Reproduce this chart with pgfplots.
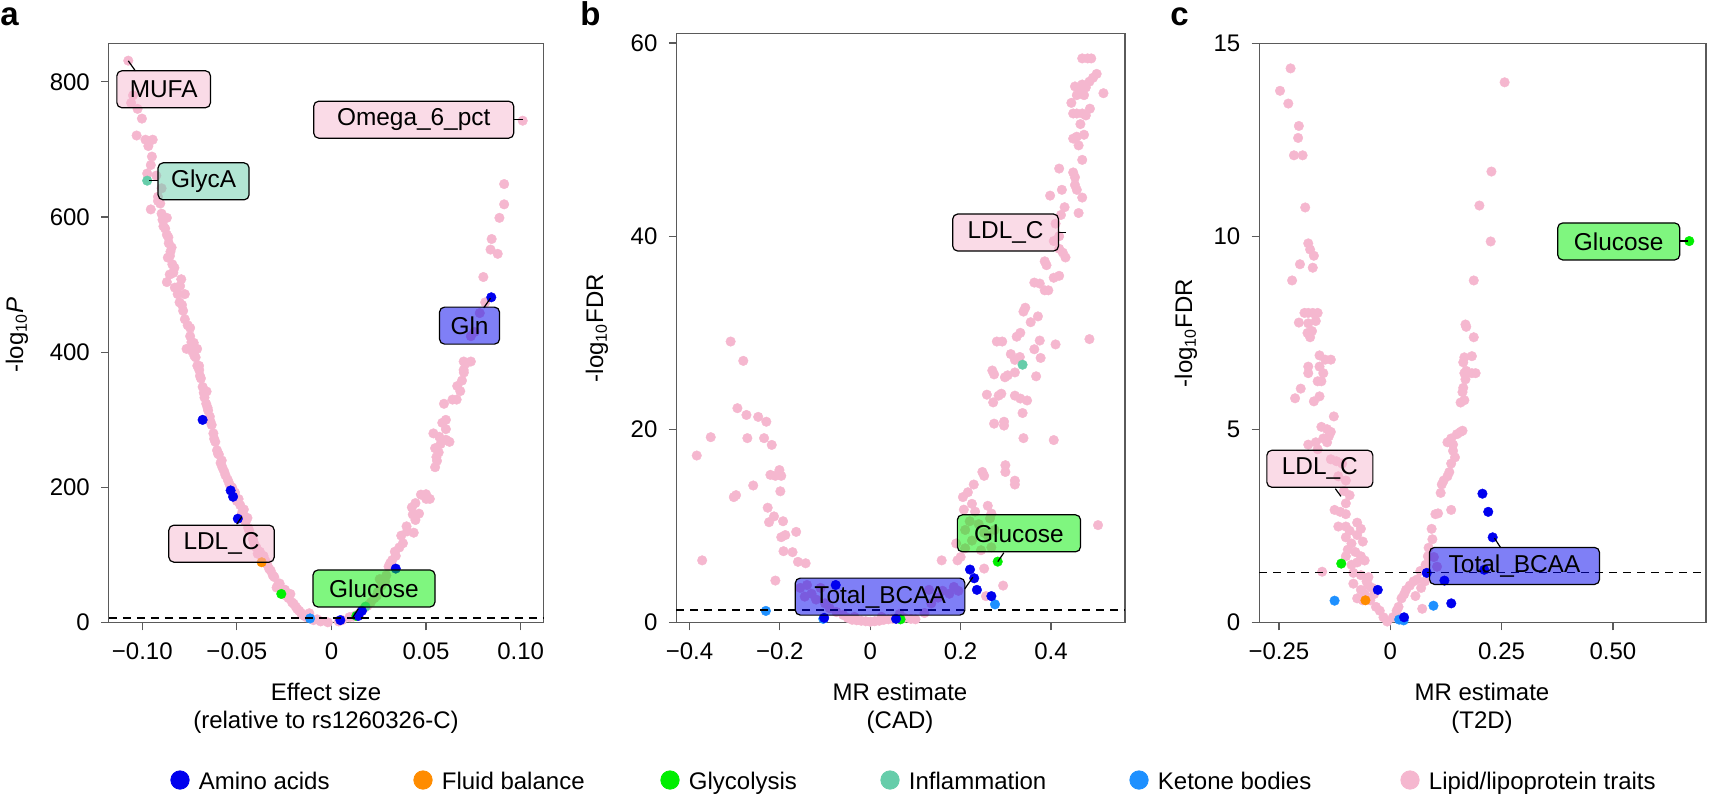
\documentclass[border=0pt]{standalone}
\usepackage{fontspec}
\setmainfont{Liberation Sans}
\usepackage{pgfplots}
\pgfplotsset{compat=1.18}

% category colours
\definecolor{amino}{RGB}{0,0,238}
\definecolor{fluid}{RGB}{255,140,0}
\definecolor{glyco}{RGB}{0,238,0}
\definecolor{inflam}{RGB}{102,205,170}
\definecolor{ketone}{RGB}{30,144,255}
\definecolor{lipid}{RGB}{245,183,207}
\definecolor{axgray}{RGB}{90,90,90}

\newcommand\fs{\fontsize{12}{14}\selectfont}
\newcommand\lf{\fontsize{12.2}{14}\selectfont}

\pgfplotsset{
  vol/.style={
    scale only axis, anchor=south west, clip mode=individual,
    axis line style={draw=axgray, line width=0.6pt},
    every tick/.style={draw=axgray, line width=0.6pt},
    tick align=outside, major tick length=3.8pt,
    xtick pos=bottom, ytick pos=left,
    ticklabel style={font=\fs, text=black},
    xticklabel style={inner sep=0pt, anchor=north, yshift=-6pt},
    yticklabel style={inner sep=0pt, anchor=east, xshift=-5.5pt},
  },
  pts/.style={only marks, mark=*, mark size=2.4pt, color=#1,
    mark options={line width=0.2pt}},
}
\tikzset{
  lab/.style={draw=black, line width=0.6pt, rounded corners=2.5pt,
    fill=#1, fill opacity=0.5, text opacity=1, font=\lf,
    inner sep=0pt, minimum height=18.5pt},
  seg/.style={line width=0.6pt, black},
  thr/.style={black, line width=0.75pt, dash pattern=on 4pt off 3pt},
}

\begin{document}
\begin{tikzpicture}
\useasboundingbox (0,0) rectangle (854.5pt,396.5pt);

% ---------------- panel a: rs1260326 effects ----------------
\begin{axis}[vol, at={(54.4pt,85.15pt)}, width=217.25pt, height=289.7pt,
  xmin=-0.1177, xmax=0.112, ymin=0, ymax=857,
  xtick={-0.1,-0.05,0,0.05,0.1}, xticklabels={−0.10,−0.05,0,0.05,0.10},
  ytick={0,200,400,600,800}, yticklabels={0,200,400,600,800}]
\addplot[pts=lipid] table {
x y
-0.1074 831.3
-0.1049 780
-0.1059 768.8
-0.1025 760
-0.1002 745.6
-0.1030 720.6
-0.0983 714.4
-0.0945 714.4
-0.0968 705
-0.0949 689.4
-0.0955 676.9
-0.0974 664.4
-0.0926 661.3
-0.0898 642.5
-0.0917 630
-0.0905 620
-0.0917 623.8
-0.0955 611.3
-0.0898 605
-0.0893 596
-0.0870 598.8
-0.0888 586.3
-0.0879 583
-0.0870 573.8
-0.0862 570
-0.0860 561.3
-0.0845 555
-0.0851 548.8
-0.0854 542.5
-0.0865 540
-0.0841 530
-0.0830 525
-0.0836 517.5
-0.0855 515
-0.0794 508
-0.0870 503.8
-0.0800 498
-0.0828 495.6
-0.0813 486
-0.0775 486
-0.0803 473.8
-0.0790 470
-0.0784 461.3
-0.0775 448.8
-0.0760 440
-0.0747 436
-0.0747 423.8
-0.0740 415
-0.0728 414
-0.0766 405
-0.0710 405
-0.0737 401.9
-0.0725 395
-0.0718 392.5
-0.0709 380
-0.0700 380
-0.0699 373.8
-0.0695 365
-0.0690 361.3
-0.0681 348.8
-0.0660 342
-0.0675 340
-0.0671 333
-0.0662 323.8
-0.0655 318
-0.0652 314
-0.0643 305
-0.0640 298
-0.0633 292.5
-0.0624 280
-0.0620 272
-0.0614 267.5
-0.0605 255
-0.0600 250
-0.0595 248.8
-0.0580 240
-0.0586 236.3
-0.0577 230
-0.0567 223.8
-0.0560 218
-0.0548 211.3
-0.0539 205
-0.0525 200
-0.0510 192.5
-0.0491 183
-0.0500 180
-0.0482 173.8
-0.0463 167.5
-0.0470 165
-0.0473 161.3
-0.0444 155
-0.0454 148.8
-0.0440 140
-0.0435 136.3
-0.0416 123.8
-0.0410 118
-0.0397 111.3
-0.0378 105
-0.0390 102
-0.0359 98.8
-0.0350 92
-0.0340 86.3
-0.0330 80
-0.0321 76.9
-0.0310 70
-0.0302 67.5
-0.0274 58
-0.0284 55
-0.0290 52
-0.0260 50
-0.0246 48.8
-0.0217 42.5
-0.0240 40
-0.0227 36.3
-0.0208 30
-0.0200 28
-0.0189 23.8
-0.0180 20
-0.0170 17.5
-0.0160 14
-0.0117 14
-0.0151 11.3
-0.0140 10
-0.0132 8.1
-0.0076 5
-0.0095 3.8
-0.0057 1.9
-0.0019 0.6
0.0038 1.9
0.0057 3.8
0.0095 8.1
0.0115 9
0.0132 11.3
0.0151 14.4
0.0170 20.6
0.0190 25
0.0208 30
0.0227 36.3
0.0240 40
0.0246 45.6
0.0265 55
0.0284 61.3
0.0255 64.4
0.0290 70
0.0302 83.1
0.0310 88
0.0321 92.5
0.0340 98.8
0.0335 105
0.0359 111.3
0.0378 117.5
0.0369 128.8
0.0400 135
0.0397 142.5
0.0435 133.1
0.0444 151.9
0.0430 160
0.0463 161.3
0.0425 170.6
0.0444 176.9
0.0473 189.4
0.0500 190
0.0501 183.1
0.0520 183.1
0.0548 230
0.0558 239.4
0.0555 245
0.0567 251.9
0.0548 258.1
0.0577 264.4
0.0570 275
0.0605 270.6
0.0624 267.5
0.0539 280
0.0586 295.6
0.0605 300
0.0605 286.3
0.0595 323.8
0.0640 330
0.0662 330
0.0681 342.5
0.0665 350
0.0690 358.1
0.0700 370
0.0699 373.8
0.0709 383.1
0.0737 386.3
0.0699 386.3
0.0737 423.8
0.0756 430
0.0784 458
0.0813 473.8
0.0803 511.3
0.0841 551.9
0.0847 567.5
0.0879 545.6
0.0888 598.8
0.0913 618.8
0.0913 648.8
0.1011 742.5
};
\addplot[pts=inflam] coordinates {(-0.0974,653.8) (0.0180,23.8)};
\addplot[pts=fluid] coordinates {(-0.0369,89.4)};
\addplot[pts=glyco] coordinates {(-0.0265,42.5) (0.0132,10)};
\addplot[pts=ketone] coordinates {(-0.0113,6.3)};
\addplot[pts=amino] coordinates {(-0.0681,300) (-0.0533,195.6) (-0.0520,186.3)
  (-0.0495,153.8) (0.0047,3.8) (0.0142,10) (0.0161,17.5) (0.0340,80) (0.0845,481.3)};
\draw[thr] (axis cs:-0.1177,7.3) -- (axis cs:0.112,7.3);
\draw[seg] (axis cs:-0.1074,831) -- (axis cs:-0.1036,816);
\draw[seg] (axis cs:0.0964,743.8) -- (axis cs:0.1011,743.8);
\draw[seg] (axis cs:-0.0964,653.8) -- (axis cs:-0.0917,653.8);
\draw[seg] (axis cs:0.0805,465.6) -- (axis cs:0.0841,480);
\draw[seg] (axis cs:-0.0501,145.6) -- (axis cs:-0.0473,157);
\draw[seg] (axis cs:0.0113,8.1) -- (axis cs:0.0142,20.6);
\node[lab=lipid, minimum width=46.8pt] at (axis cs:-0.0887,789) {MUFA};
\node[lab=lipid, minimum width=100pt] at (axis cs:0.0435,744) {Omega\_6\_pct};
\node[lab=inflam, minimum width=45.5pt] at (axis cs:-0.0676,652.8) {GlycA};
\node[lab=amino, minimum width=30pt] at (axis cs:0.073,439.4) {Gln};
\node[lab=lipid, minimum width=52.7pt] at (axis cs:-0.0581,116.9) {LDL\_C};
\node[lab=glyco, minimum width=61pt] at (axis cs:0.0225,50.6) {Glucose};
\end{axis}

% ---------------- panel b: MR on CAD ----------------
\begin{axis}[vol, at={(338.2pt,85.15pt)}, width=224.3pt, height=294.7pt,
  xmin=-0.429, xmax=0.5637, ymin=0, ymax=61,
  xtick={-0.4,-0.2,0,0.2,0.4}, xticklabels={−0.4,−0.2,0,0.2,0.4},
  ytick={0,20,40,60}, yticklabels={0,20,40,60}]
\addplot[pts=lipid] table {
x y
-0.384 17.3
-0.372 6.45
-0.353 19.2
-0.309 29.1
-0.281 27.1
-0.302 13.0
-0.297 13.2
-0.294 22.2
-0.274 21.5
-0.272 19.1
-0.259 14.2
-0.248 21.3
-0.235 19.1
-0.230 20.8
-0.218 18.4
-0.221 15.3
-0.210 15.2
-0.201 15.8
-0.199 13.6
-0.197 15.2
-0.227 11.9
-0.213 11.0
-0.224 10.4
-0.193 10.5
-0.197 8.85
-0.188 9.07
-0.164 9.4
-0.192 7.4
-0.172 7.3
-0.160 6.3
-0.143 6.15
-0.210 4.36
-0.155 3.6
-0.140 3.9
-0.130 3.0
-0.120 2.4
-0.145 2.7
-0.110 3.6
-0.100 2.0
-0.090 1.5
-0.075 1.1
-0.060 0.8
-0.050 0.5
-0.040 0.3
-0.035 0.6
-0.030 0.25
-0.020 0.2
-0.010 0.15
0.000 0.1
0.010 0.15
0.020 0.2
0.025 0.6
0.030 0.3
0.040 0.35
0.050 0.4
0.060 0.5
0.065 0.9
0.075 0.5
0.090 0.4
0.100 0.35
0.120 1.0
0.130 3.4
0.135 2.0
0.150 2.6
0.160 3.3
0.175 3.0
0.185 3.7
0.195 3.3
0.158 6.45
0.193 6.45
0.200 6.8
0.190 8.2
0.210 7.7
0.225 8.5
0.245 7.5
0.210 9.6
0.252 9.3
0.260 9.0
0.268 7.8
0.275 9.6
0.207 11.7
0.220 10.5
0.232 11.5
0.240 10.2
0.265 10.8
0.205 13.0
0.229 14.3
0.225 12.3
0.216 13.5
0.248 15.6
0.252 15.2
0.260 12.1
0.268 11.3
0.252 5.6
0.256 2.75
0.294 3.84
0.258 23.6
0.272 22.8
0.284 23.5
0.290 23.7
0.274 20.6
0.296 20.8
0.296 20.4
0.270 26.1
0.274 25.7
0.280 29.1
0.292 29.1
0.298 25.4
0.304 25.6
0.320 25.9
0.311 27.8
0.320 27.2
0.324 29.6
0.332 30.0
0.339 32.2
0.343 32.6
0.331 27.5
0.320 23.5
0.332 23.2
0.347 23.0
0.337 21.7
0.339 19.1
0.299 16.3
0.299 15.6
0.320 14.7
0.320 14.3
0.355 31.1
0.371 31.7
0.363 28.3
0.375 29.2
0.377 27.4
0.367 25.5
0.410 28.8
0.406 18.9
0.363 35.2
0.375 35.1
0.386 34.4
0.394 34.4
0.386 37.4
0.390 37.0
0.406 35.7
0.418 35.9
0.418 38.7
0.426 38.3
0.432 37.8
0.406 39.5
0.418 40.0
0.410 41.3
0.422 42.2
0.430 43.0
0.398 44.2
0.424 44.8
0.418 47.0
0.449 46.6
0.453 46.1
0.453 45.3
0.457 44.8
0.469 44.0
0.461 42.4
0.449 50.1
0.457 50.3
0.461 49.4
0.473 50.5
0.469 47.9
0.465 51.6
0.477 52.5
0.449 52.7
0.457 52.7
0.445 53.8
0.469 52.7
0.457 54.6
0.465 54.9
0.473 54.6
0.486 53.2
0.453 55.5
0.469 55.7
0.477 55.4
0.485 56.0
0.493 56.4
0.501 56.8
0.516 54.8
0.469 58.4
0.481 58.4
0.489 58.4
0.485 29.35
0.504 10.1
};
\addplot[pts=inflam] coordinates {(0.337,26.7)};
\addplot[pts=glyco] coordinates {(0.282,6.32) (0.067,0.35)};
\addplot[pts=ketone] coordinates {(-0.231,1.22) (0.276,1.9) (-0.104,0.4)};
\addplot[pts=amino] coordinates {(0.2207,5.5) (0.230,4.6) (0.236,3.4) (0.268,2.75)
  (-0.0765,3.9) (-0.102,0.5) (0.057,0.4)};
\draw[thr] (axis cs:-0.429,1.301) -- (axis cs:0.5637,1.301);
\draw[seg] (axis cs:0.416,40.38) -- (axis cs:0.4335,40.38);
\draw[seg] (axis cs:0.2822,6.32) -- (axis cs:0.2956,7.24);
\draw[seg] (axis cs:0.2089,3.49) -- (axis cs:0.227,4.71);
\node[lab=lipid, minimum width=52.9pt] at (axis cs:0.2995,40.38) {LDL\_C};
\node[lab=glyco, minimum width=61.6pt] at (axis cs:0.329,9.25) {Glucose};
\node[lab=amino, minimum width=84.8pt] at (axis cs:0.0217,2.70) {Total\_BCAA};
\end{axis}

% ---------------- panel c: MR on T2D ----------------
\begin{axis}[vol, at={(629.65pt,85.15pt)}, width=223.35pt, height=289.7pt,
  xmin=-0.294, xmax=0.709, ymin=0, ymax=15,
  xtick={-0.25,0,0.25,0.5}, xticklabels={−0.25,0,0.25,0.50},
  ytick={0,5,10,15}, yticklabels={0,5,10,15}]
\addplot[pts=lipid] table {
x y
-0.2238 14.35
-0.2475 13.77
-0.2289 13.44
-0.2052 12.86
-0.2069 12.55
-0.2162 12.10
-0.1968 12.10
-0.1909 10.75
-0.1841 9.82
-0.1799 9.66
-0.1715 9.50
-0.2027 9.28
-0.1740 9.19
-0.2204 8.86
-0.1926 8.02
-0.1841 8.02
-0.1740 8.02
-0.1630 8.02
-0.1672 7.81
-0.1841 7.75
-0.2052 7.77
-0.1858 7.50
-0.1757 7.55
-0.1799 7.39
-0.1588 6.92
-0.1461 6.81
-0.1334 6.81
-0.1588 6.63
-0.1841 6.63
-0.1503 6.46
-0.1546 6.25
-0.1630 6.25
-0.1841 6.46
-0.1588 5.86
-0.2010 6.06
-0.2137 5.81
-0.1715 5.73
-0.1267 5.34
-0.1546 5.07
-0.1419 5.01
-0.1503 4.77
-0.1377 4.83
-0.1334 4.94
-0.1672 4.67
-0.1841 4.61
-0.1630 4.49
-0.1419 4.67
-0.1334 4.23
-0.1208 4.18
-0.1081 4.12
-0.1166 3.79
-0.0997 3.68
-0.1039 3.41
-0.0912 3.30
-0.0997 3.09
-0.1250 2.92
-0.1123 2.87
-0.0997 2.81
-0.0997 2.49
-0.0912 2.38
-0.0743 2.59
-0.0659 2.43
-0.1166 2.49
-0.0997 2.21
-0.0870 2.05
-0.0743 2.27
-0.0617 2.10
-0.0954 1.89
-0.0785 1.83
-0.0659 1.72
-0.0574 1.61
-0.0743 1.56
-0.0870 1.50
-0.0997 1.72
-0.1529 1.32
-0.0828 1.29
-0.0659 1.23
-0.0490 1.18
-0.0532 1.07
-0.0828 1.01
-0.0490 0.96
-0.0405 0.90
-0.0659 0.85
-0.0574 0.74
-0.0363 0.74
-0.0743 0.63
-0.0617 0.58
-0.0448 0.58
-0.0321 0.41
-0.0236 0.31
-0.0152 0.14
-0.0068 0.03
0.0059 0.14
0.0144 0.31
0.0186 0.41
0.0253 0.63
0.0313 0.74
0.0355 0.85
0.0439 0.96
0.0524 1.07
0.0608 1.12
0.0676 1.34
0.0718 0.36
0.0566 0.69
0.0693 0.90
0.0777 1.07
0.0794 1.50
0.0845 1.72
0.0861 1.94
0.0980 1.70
0.1050 1.45
0.0946 2.16
0.0929 2.43
0.1014 2.81
0.1073 2.83
0.1132 3.36
0.1157 3.58
0.1199 3.68
0.1284 3.79
0.1368 2.92
0.1326 3.90
0.1368 4.12
0.1453 4.28
0.1410 4.45
0.1410 4.61
0.1368 4.77
0.1495 4.88
0.1579 4.94
0.1622 4.97
0.1284 4.67
0.1579 5.70
0.1664 5.76
0.1622 5.97
0.1639 6.08
0.1689 6.30
0.1664 6.46
0.1706 6.52
0.1833 6.46
0.1917 6.46
0.1833 6.90
0.1664 6.87
0.1639 6.74
0.1706 7.66
0.1689 7.72
0.1875 7.39
0.1875 8.86
0.2002 10.80
0.2255 9.87
0.2272 11.68
0.2568 13.99
};
\addplot[pts=fluid] coordinates {(-0.0557,0.58)};
\addplot[pts=glyco] coordinates {(0.6714,9.88) (-0.110,1.53)};
\addplot[pts=ketone] coordinates {(0.097,0.44) (-0.125,0.57) (0.020,0.08) (0.030,0.06)};
\addplot[pts=amino] coordinates {(0.207,3.34) (0.220,2.87) (0.230,2.21) (0.211,1.37)
  (0.1216,1.09) (0.137,0.50) (0.082,1.29) (-0.028,0.85) (0.031,0.14)};
\draw[thr] (axis cs:-0.294,1.301) -- (axis cs:0.709,1.301);
\draw[seg] (axis cs:0.650,9.88) -- (axis cs:0.669,9.88);
\draw[seg] (axis cs:-0.1233,3.47) -- (axis cs:-0.1106,3.27);
\draw[seg] (axis cs:0.234,2.19) -- (axis cs:0.248,1.94);
\node[lab=glyco, minimum width=61pt] at (axis cs:0.513,9.87) {Glucose};
\node[lab=lipid, minimum width=53pt] at (axis cs:-0.158,3.985) {LDL\_C};
\node[lab=amino, minimum width=85pt] at (axis cs:0.279,1.47) {Total\_BCAA};
\end{axis}

% ---------------- titles, axis labels and legend ----------------
\begin{axis}[at={(0pt,0pt)}, anchor=south west, scale only axis,
  width=854.5pt, height=396.5pt, xmin=0, xmax=1709, ymin=0, ymax=793,
  y dir=reverse, hide axis, clip=false]
\node[anchor=base west, inner sep=0pt, font=\fontsize{16.5}{18}\selectfont\bfseries] at (axis cs:0,25) {a};
\node[anchor=base west, inner sep=0pt, font=\fontsize{16.5}{18}\selectfont\bfseries] at (axis cs:580,25) {b};
\node[anchor=base west, inner sep=0pt, font=\fontsize{16.5}{18}\selectfont\bfseries] at (axis cs:1170,25) {c};
\node[rotate=90, inner sep=0pt, font=\fs] at (axis cs:17,335) {-log\textsubscript{10}\textit{P}};
\node[rotate=90, inner sep=0pt, font=\fs] at (axis cs:597,328) {-log\textsubscript{10}FDR};
\node[rotate=90, inner sep=0pt, font=\fs] at (axis cs:1186,333) {-log\textsubscript{10}FDR};
\node[anchor=base, inner sep=0pt, font=\fs] at (axis cs:326,700) {Effect size};
\node[anchor=base, inner sep=0pt, font=\fs] at (axis cs:326,728) {(relative to rs1260326-C)};
\node[anchor=base, inner sep=0pt, font=\fs] at (axis cs:900,700) {MR estimate};
\node[anchor=base, inner sep=0pt, font=\fs] at (axis cs:900,728) {(CAD)};
\node[anchor=base, inner sep=0pt, font=\fs] at (axis cs:1482,700) {MR estimate};
\node[anchor=base, inner sep=0pt, font=\fs] at (axis cs:1482,728) {(T2D)};
\addplot[only marks, mark=*, mark size=4.6pt, color=amino] coordinates {(180,780)};
\addplot[only marks, mark=*, mark size=4.6pt, color=fluid] coordinates {(423,780)};
\addplot[only marks, mark=*, mark size=4.6pt, color=glyco] coordinates {(670,780)};
\addplot[only marks, mark=*, mark size=4.6pt, color=inflam] coordinates {(890,780)};
\addplot[only marks, mark=*, mark size=4.6pt, color=ketone] coordinates {(1139,780)};
\addplot[only marks, mark=*, mark size=4.6pt, color=lipid] coordinates {(1410,780)};
\node[anchor=base west, inner sep=0pt, font=\fs] at (axis cs:198.5,789) {Amino acids};
\node[anchor=base west, inner sep=0pt, font=\fs] at (axis cs:441.5,789) {Fluid balance};
\node[anchor=base west, inner sep=0pt, font=\fs] at (axis cs:688.5,789) {Glycolysis};
\node[anchor=base west, inner sep=0pt, font=\fs] at (axis cs:908.5,789) {Inflammation};
\node[anchor=base west, inner sep=0pt, font=\fs] at (axis cs:1157.5,789) {Ketone bodies};
\node[anchor=base west, inner sep=0pt, font=\fs] at (axis cs:1428.5,789) {Lipid/lipoprotein traits};
\end{axis}
\end{tikzpicture}
\end{document}
